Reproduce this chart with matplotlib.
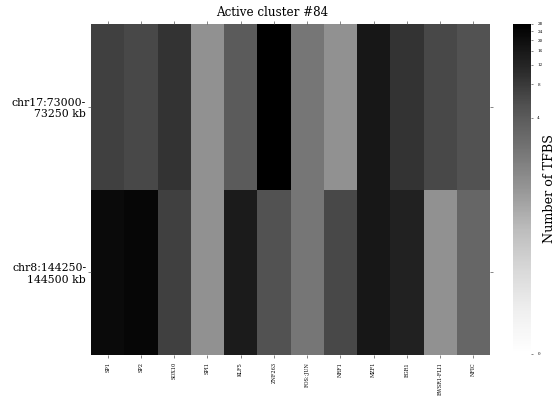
import numpy as np
import matplotlib
matplotlib.use("Agg")
import matplotlib.pyplot as plt
from matplotlib.colors import FuncNorm

# ── Data ──────────────────────────────────────────────────────────────────────
tfs = ["SP1", "SP2", "SOX10", "SPI1", "KLF5", "ZNF263", "FOS::JUN", "NRF1",
       "MZF1", "EGR1", "EWSR1-FLI1", "NFIC"]
regions = ["chr17:73000-\n73250 kb", "chr8:144250-\n144500 kb"]
counts_chr17 = [7, 6, 9, 1, 4, 28, 2, 1, 16, 9, 6, 5]
counts_chr8 = [22, 24, 7, 1, 15, 5, 2, 6, 16, 13, 1, 3]
cbar_ticks = [0, 4, 8, 12, 16, 20, 24, 28]

counts = np.array([counts_chr17, counts_chr8], dtype=float)
vmax = 28

# log-like compression so low counts still get visible shading
OFF = 0.03
def fwd(x):
    return np.log1p(np.asarray(x, dtype=float) / OFF)
def inv(y):
    return OFF * np.expm1(y)
norm = FuncNorm((fwd, inv), vmin=0, vmax=vmax)

plt.rcParams["font.family"] = "DejaVu Serif"

fig = plt.figure(figsize=(5.56, 3.98), dpi=100)
ax = fig.add_axes([0.1637, 0.108, 0.7176, 0.8317])
cax = fig.add_axes([0.9227, 0.1106, 0.0324, 0.8291])

mesh = ax.pcolormesh(counts, cmap="Greys", norm=norm)
ax.set_ylim(len(regions), 0)
ax.set_xlim(0, len(tfs))

ax.set_xticks(np.arange(len(tfs)) + 0.5)
ax.set_xticklabels(tfs, rotation=90, fontsize=3.6)
ax.set_yticks(np.arange(len(regions)) + 0.5)
ax.set_yticklabels(regions, fontsize=7.8, ha="right", multialignment="right")
ax.tick_params(axis="both", length=2, width=0.5, color="#555555",
               top=True, right=True, pad=3)
ax.tick_params(axis="y", pad=1.5)
for s in ax.spines.values():
    s.set_visible(False)

fig.text(0.49, 0.969, "Active cluster #84", ha="center", va="center",
         fontsize=8.6)

cb = fig.colorbar(mesh, cax=cax)
cb.set_ticks(cbar_ticks)
cb.ax.tick_params(labelsize=3, length=1.5, width=0.5, color="#555555", pad=3)
cb.outline.set_visible(False)
cb.set_label("Number of TFBS", fontsize=9.2)
cb.ax.yaxis.set_label_coords(1.68, 0.5)

fig.savefig("out.png", dpi=100, facecolor="white")
